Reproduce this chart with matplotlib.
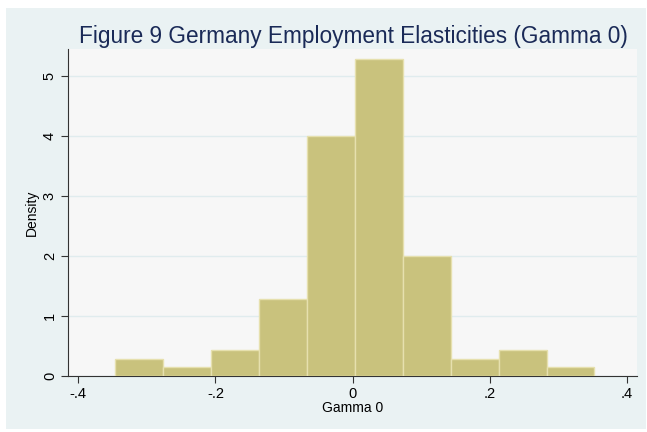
import numpy as np
import matplotlib.pyplot as plt

# histogram of gamma 0 (density scale)
bin_edges = [-0.347, -0.277, -0.207, -0.137, -0.067, 0.003, 0.073, 0.143, 0.213, 0.283, 0.353]
density = [0.286, 0.143, 0.429, 1.286, 4.0, 5.286, 2.0, 0.286, 0.429, 0.143]
x_ticks = [-0.4, -0.2, 0, 0.2, 0.4]
x_tick_labels = ['-.4', '-.2', '0', '.2', '.4']
y_ticks = [0, 1, 2, 3, 4, 5]

W, H = 647, 432
fig = plt.figure(figsize=(W / 100, H / 100), dpi=100)
fig.patch.set_facecolor('white')
plt.rcParams['font.family'] = ['Liberation Sans', 'DejaVu Sans']

# outer graph region (light blue)
bg = fig.add_axes([6 / W, 1 - 429 / H, 640 / W, 421 / H])
bg.set_facecolor('#EAF2F3')
bg.set_xticks([])
bg.set_yticks([])
for s in bg.spines.values():
    s.set_visible(False)

# plot region
ax = fig.add_axes([68 / W, 1 - 376 / H, (637 - 68) / W, (376 - 49) / H])
ax.set_facecolor('#F7F7F7')

left = np.array(bin_edges[:-1])
widths = np.diff(bin_edges)
ax.bar(left, density, width=widths, align='edge', color='#C9C27D',
       edgecolor='#E6E0AE', linewidth=1.0, zorder=3)

ax.set_xlim(-0.415, 0.415)
ax.set_ylim(0, 5.45)
ax.set_xticks(x_ticks)
ax.set_xticklabels(x_tick_labels, fontsize=10.5)
ax.set_yticks(y_ticks)
ax.set_yticklabels([str(v) for v in y_ticks], fontsize=10.5, rotation=90, va='center')
ax.grid(axis='y', color='#E0ECEE', linewidth=1.0, zorder=0)
ax.tick_params(axis='both', length=5, width=0.8, color='#333333', pad=3)

for s in ['top', 'right']:
    ax.spines[s].set_visible(False)
ax.spines['left'].set_color('#333333')
ax.spines['bottom'].set_color('#333333')

ax.set_xlabel('Gamma 0', fontsize=10, labelpad=0)
ax.set_ylabel('Density', fontsize=10, labelpad=3)

fig.text(353 / W, 1 - 36 / H, 'Figure 9 Germany Employment Elasticities (Gamma 0)',
         ha='center', va='center', fontsize=16.3, color='#1A2A57')

fig.savefig('out.png', dpi=100)
